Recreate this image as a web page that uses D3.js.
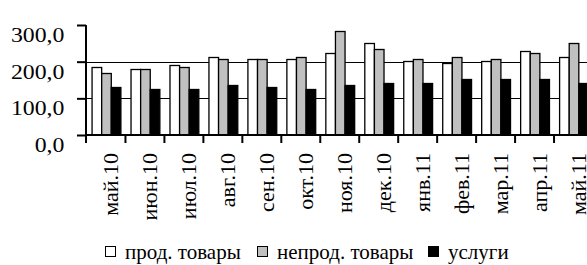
<!DOCTYPE html>
<html>
<head>
<meta charset="utf-8">
<script src="https://cdn.jsdelivr.net/npm/d3@7"></script>
<style>
  body { margin: 0; background: #fff; }
</style>
</head>
<body>
<div id="chart"></div>
<script>
const months = ["май.10", "июн.10", "июл.10", "авг.10", "сен.10", "окт.10", "ноя.10",
                "дек.10", "янв.11", "фев.11", "мар.11", "апр.11", "май.11"];
const seriesNames = ["прод. товары", "непрод. товары", "услуги"];
const food = [186, 179, 192, 212, 207, 207, 224, 252, 201, 196, 201, 230, 212];
const nonFood = [170, 179, 186, 207, 207, 212, 283, 234, 207, 212, 207, 224, 252];
const services = [132, 126, 126, 137, 132, 126, 137, 143, 143, 154, 154, 154, 143];
const yTicks = [0, 100, 200, 300];
const colors = ["#ffffff", "#c0c0c0", "#000000"];

const width = 587, height = 265;
const font = "Liberation Serif";

const svg = d3.select("#chart").append("svg")
    .attr("width", width)
    .attr("height", height);

const x = d3.scaleBand().domain(months).range([86.5, 593]).paddingInner(0.26).paddingOuter(0.13);
const xs = d3.scaleBand().domain(d3.range(3)).range([0, x.bandwidth()]);
const y = d3.scaleLinear().domain([0, 300]).range([135, 25]);

// gridlines
svg.append("g")
    .selectAll("line")
    .data([100, 200])
    .enter()
    .append("line")
    .attr("x1", 86).attr("x2", width)
    .attr("y1", d => Math.round(y(d)) + 0.5).attr("y2", d => Math.round(y(d)) + 0.5)
    .attr("stroke", "#000").attr("stroke-width", 1);

const series = [food, nonFood, services];
const data = [];
months.forEach((m, i) => series.forEach((s, k) => data.push({ m, k, v: s[i] })));

svg.append("g")
    .selectAll("rect")
    .data(data)
    .enter()
    .append("rect")
    .attr("x", d => x(d.m) + xs(d.k) + 0.5)
    .attr("y", d => Math.round(y(d.v)) + 0.5)
    .attr("width", xs.bandwidth())
    .attr("height", d => y(0) - Math.round(y(d.v)) - 0.5)
    .attr("fill", d => colors[d.k])
    .attr("stroke", "#000")
    .attr("stroke-width", 1.3);

// y axis
const yAxis = svg.append("g")
    .attr("transform", "translate(86,0)")
    .call(d3.axisLeft(y).tickValues(yTicks).tickSize(9).tickPadding(11)
        .tickFormat(d => d3.format(".1f")(d).replace(".", ",")));
yAxis.attr("font-family", font).attr("font-size", 22);
yAxis.select(".domain").attr("stroke-width", 2).attr("d", "M0,25V136");
yAxis.selectAll(".tick line").attr("stroke-width", 2);
yAxis.selectAll("text")
    .attr("font-family", font)
    .attr("font-size", 22)
    .attr("fill", "#000")
    .attr("dy", 16.5)
    .attr("transform", "scale(1.08,1)");

// x axis
const xAxis = svg.append("g")
    .attr("transform", "translate(0,135)");
xAxis.append("line")
    .attr("x1", 86).attr("x2", width)
    .attr("stroke", "#000").attr("stroke-width", 2);
const tickPos = months.map(m => x(m) - x.step() * x.paddingInner() / 2);
tickPos[0] = 86;
xAxis.selectAll(".tk")
    .data(tickPos)
    .enter()
    .append("line")
    .attr("class", "tk")
    .attr("x1", d => d).attr("x2", d => d)
    .attr("y1", 0).attr("y2", 8)
    .attr("stroke", "#000").attr("stroke-width", 2);
xAxis.selectAll("text")
    .data(months)
    .enter()
    .append("text")
    .attr("transform", d => `translate(${x(d) + x.bandwidth() / 2 + 12},18) rotate(-90)`)
    .attr("text-anchor", "end")
    .attr("font-family", font)
    .attr("font-size", 22)
    .text(d => d);

// legend
const legendX = [105, 257, 428];
const legend = svg.append("g");
legend.selectAll("rect")
    .data(seriesNames)
    .enter()
    .append("rect")
    .attr("x", (d, i) => legendX[i] + 0.5)
    .attr("y", 246.5)
    .attr("width", 10).attr("height", 10)
    .attr("fill", (d, i) => colors[i])
    .attr("stroke", "#000").attr("stroke-width", 1);
legend.selectAll("text")
    .data(seriesNames)
    .enter()
    .append("text")
    .attr("x", (d, i) => legendX[i] + 20)
    .attr("y", 259)
    .attr("font-family", font)
    .attr("font-size", 21)
    .text(d => d);
</script>
</body>
</html>
